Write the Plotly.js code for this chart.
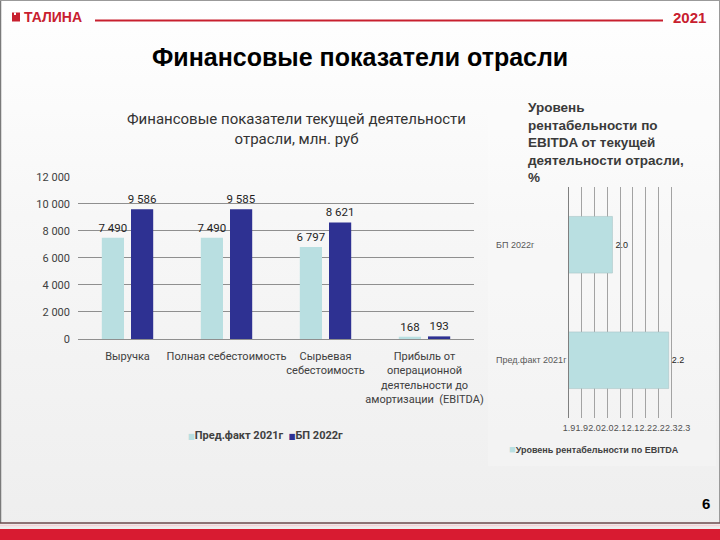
<!DOCTYPE html>
<html>
<head>
<meta charset="utf-8">
<script src="https://cdn.plot.ly/plotly-3.0.1.min.js"></script>
<style>
html,body{margin:0;padding:0;width:720px;height:540px;overflow:hidden;
background:linear-gradient(to bottom,#ffffff 0%,#f7f7f7 40%,#eeeeee 100%);}
#chart{width:720px;height:540px;}
</style>
</head>
<body>
<div id="chart"></div>
<script>
// ---------- data ----------
const categories = ['Выручка', 'Полная себестоимость', 'Сырьевая<br>себестоимость',
  'Прибыль от<br>операционной<br>деятельности до<br>амортизации  (EBITDA)'];
const seriesNames = ['Пред.факт 2021г', 'БП 2022г'];
const factValues = [7490, 7490, 6797, 168];
const planValues = [9586, 9585, 8621, 193];
const yTickVals = [0, 2000, 4000, 6000, 8000, 10000, 12000];
const yTickText = ['0', '2 000', '4 000', '6 000', '8 000', '10 000', '12 000'];

const rentCategories = ['Пред.факт 2021г', 'БП 2022г'];
const rentValues = [2.24, 2.02];
const rentSeriesName = 'Уровень рентабельности по EBITDA';
const rentTickVals = [1.85, 1.90, 1.95, 2.00, 2.05, 2.10, 2.15, 2.20, 2.25, 2.30];
const rentTickText = ['1.9', '1.9', '2.0', '2.0', '2.1', '2.1', '2.2', '2.2', '2.3', '2.3'];

const pageTitle = 'Финансовые показатели отрасли';
const leftTitle = 'Финансовые показатели текущей деятельности<br>отрасли, млн. руб';
const rightTitle = 'Уровень<br>рентабельности по<br>EBITDA от текущей<br>деятельности отрасли,<br>%';
const brand = 'ТАЛИНА';
const yearText = '2021';
const pageNum = '6';

// ---------- styles ----------
const W = 720, H = 540;
const px = x => x / W;
const py = y => 1 - y / H;
const NARROW = 'Roboto, Liberation Sans Narrow, DejaVu Sans Condensed, sans-serif';
const SANS = 'Liberation Sans, Arial, sans-serif';
const RED = '#c8202f';
const LIGHT = '#b9dfe1';
const DARK = '#2e3192';

const traces = [
  {type: 'bar', x: categories, y: factValues, name: seriesNames[0], xaxis: 'x', yaxis: 'y',
   marker: {color: LIGHT}, texttemplate: '%{y:,}', textposition: 'outside', constraintext: 'none',
   textfont: {family: NARROW, size: 11.5, color: '#1f1f1f'}, cliponaxis: false,
   showlegend: false, hoverinfo: 'skip'},
  {type: 'bar', x: categories, y: planValues, name: seriesNames[1], xaxis: 'x', yaxis: 'y',
   marker: {color: DARK}, texttemplate: '%{y:,}', textposition: 'outside', constraintext: 'none',
   textfont: {family: NARROW, size: 11.5, color: '#1f1f1f'}, cliponaxis: false,
   showlegend: false, hoverinfo: 'skip'},
  {type: 'bar', orientation: 'h', x: rentValues, y: rentCategories, name: rentSeriesName,
   xaxis: 'x2', yaxis: 'y2', width: 0.49,
   marker: {color: LIGHT, line: {color: '#a9c4c6', width: 0.6}},
   texttemplate: '%{x:.1f}', textposition: 'outside', constraintext: 'none',
   textfont: {family: SANS, size: 9, color: '#262626'}, cliponaxis: false, showlegend: false,
   hoverinfo: 'skip'}
];

const annotations = [
  {xref: 'paper', yref: 'paper', x: px(22), y: py(17), xanchor: 'left', yanchor: 'middle',
   text: '<b>' + brand + '</b>', showarrow: false, font: {family: SANS, size: 14, color: RED}},
  {xref: 'paper', yref: 'paper', x: px(708), y: py(18), xanchor: 'right', yanchor: 'middle',
   text: '<b>' + yearText + '</b>', showarrow: false, font: {family: SANS, size: 15, color: RED}},
  {xref: 'paper', yref: 'paper', x: px(360), y: py(57), xanchor: 'center', yanchor: 'middle',
   text: '<b>' + pageTitle + '</b>', showarrow: false, font: {family: SANS, size: 25, color: '#000000'}},
  {xref: 'paper', yref: 'paper', x: px(296), y: py(129), xanchor: 'center', yanchor: 'middle',
   text: leftTitle, showarrow: false, font: {family: NARROW, size: 15, color: '#333333'}},
  {xref: 'paper', yref: 'paper', x: px(526), y: py(98), xanchor: 'left', yanchor: 'top', align: 'left',
   text: '<b>' + rightTitle + '</b>', showarrow: false, font: {family: SANS, size: 13.5, color: '#3a3a3a'}},
  {xref: 'paper', yref: 'paper', x: px(265), y: py(435), xanchor: 'center', yanchor: 'middle',
   text: '<span style="color:' + LIGHT + ';font-size:8px">■</span><b>' + seriesNames[0] +
         '</b>  <span style="color:' + DARK + ';font-size:8px">■</span><b>' + seriesNames[1] + '</b>',
   showarrow: false, font: {family: NARROW, size: 11, color: '#404040'}},
  {xref: 'paper', yref: 'paper', x: px(507), y: py(449), xanchor: 'left', yanchor: 'middle',
   text: '<span style="color:' + LIGHT + ';font-size:11px">■</span><b>' + rentSeriesName + '</b>',
   showarrow: false, font: {family: SANS, size: 9, color: '#404040'}},
  {xref: 'paper', yref: 'paper', x: px(712), y: py(503), xanchor: 'right', yanchor: 'middle',
   text: '<b>' + pageNum + '</b>', showarrow: false, font: {family: SANS, size: 15, color: '#000000'}}
];
rentCategories.forEach(c => annotations.push({
  xref: 'paper', yref: 'y2', x: px(494), y: c, xanchor: 'left', yanchor: 'middle',
  text: c, showarrow: false, font: {family: SANS, size: 9, color: '#595959'}
}));

const shapes = [
  // subtle lighter panel behind right chart
  {type: 'rect', xref: 'paper', yref: 'paper', x0: px(488), x1: px(716), y0: py(92), y1: py(466),
   fillcolor: 'rgba(255,255,255,0.2)', line: {width: 0}, layer: 'below'},
  // slide frame
  {type: 'line', xref: 'paper', yref: 'paper', x0: px(0.5), x1: px(0.5), y0: py(0), y1: py(523),
   line: {color: '#7a7a7a', width: 1.5}},
  {type: 'line', xref: 'paper', yref: 'paper', x0: px(0), x1: px(720), y0: py(0.5), y1: py(0.5),
   line: {color: '#9a9a9a', width: 1}},
  {type: 'line', xref: 'paper', yref: 'paper', x0: px(719.5), x1: px(719.5), y0: py(0), y1: py(523),
   line: {color: '#9a9a9a', width: 1}},
  // header
  {type: 'rect', xref: 'paper', yref: 'paper', x0: px(12), x1: px(20), y0: py(12.5), y1: py(21.5),
   fillcolor: RED, line: {width: 0}},
  {type: 'rect', xref: 'paper', yref: 'paper', x0: px(14), x1: px(16), y0: py(12.5), y1: py(15),
   fillcolor: '#ffffff', line: {width: 0}},
  {type: 'line', xref: 'paper', yref: 'paper', x0: px(95), x1: px(663), y0: py(20.5), y1: py(20.5),
   line: {color: RED, width: 2}},
  // footer
  {type: 'line', xref: 'paper', yref: 'paper', x0: px(0), x1: px(720), y0: py(523), y1: py(523),
   line: {color: '#6e4a4c', width: 1.5}},
  {type: 'line', xref: 'paper', yref: 'paper', x0: px(0), x1: px(720), y0: py(525.5), y1: py(525.5),
   line: {color: '#f6d3d7', width: 1.5}},
  {type: 'rect', xref: 'paper', yref: 'paper', x0: px(0), x1: px(720), y0: py(529), y1: py(541),
   fillcolor: '#d81b31', line: {width: 0}}
];

const layout = {
  width: W, height: H,
  margin: {l: 0, r: 0, t: 0, b: 0, pad: 0},
  paper_bgcolor: 'rgba(0,0,0,0)', plot_bgcolor: 'rgba(0,0,0,0)',
  separators: '. ',
  barmode: 'group', bargap: 0.41, bargroupgap: 0.24,
  showlegend: false,
  xaxis: {domain: [px(78), px(474)], anchor: 'y', type: 'category',
    showgrid: false, zeroline: false, showline: false, ticks: '',
    tickfont: {family: NARROW, size: 11, color: '#404040'}, ticklabelstandoff: 9,
    tickangle: 0, automargin: false},
  yaxis: {domain: [py(339), py(176.7)], anchor: 'x', range: [0, 12000],
    tickvals: yTickVals, ticktext: yTickText,
    showgrid: true, gridcolor: '#8f8f8f', gridwidth: 1,
    zeroline: true, zerolinecolor: '#8f8f8f', zerolinewidth: 1,
    showline: false, ticks: '', ticklabelstandoff: 7,
    tickfont: {family: NARROW, size: 11, color: '#404040'}, automargin: false},
  xaxis2: {domain: [px(569), px(684)], anchor: 'y2', range: [1.85, 2.30],
    tickvals: rentTickVals, ticktext: rentTickText, tickangle: 0,
    showgrid: true, gridcolor: '#a3a3a3', gridwidth: 1, zeroline: false,
    showline: false, ticks: '', ticklabelstandoff: 3,
    tickfont: {family: SANS, size: 9, color: '#505050'}, automargin: false},
  yaxis2: {domain: [py(418), py(187)], anchor: 'x2', type: 'category',
    showticklabels: false, showgrid: false, zeroline: false,
    showline: true, linecolor: '#7f7f7f', linewidth: 1, ticks: '', automargin: false},
  annotations: annotations,
  shapes: shapes
};

Plotly.newPlot('chart', traces, layout, {staticPlot: true, displayModeBar: false});
</script>
</body>
</html>
